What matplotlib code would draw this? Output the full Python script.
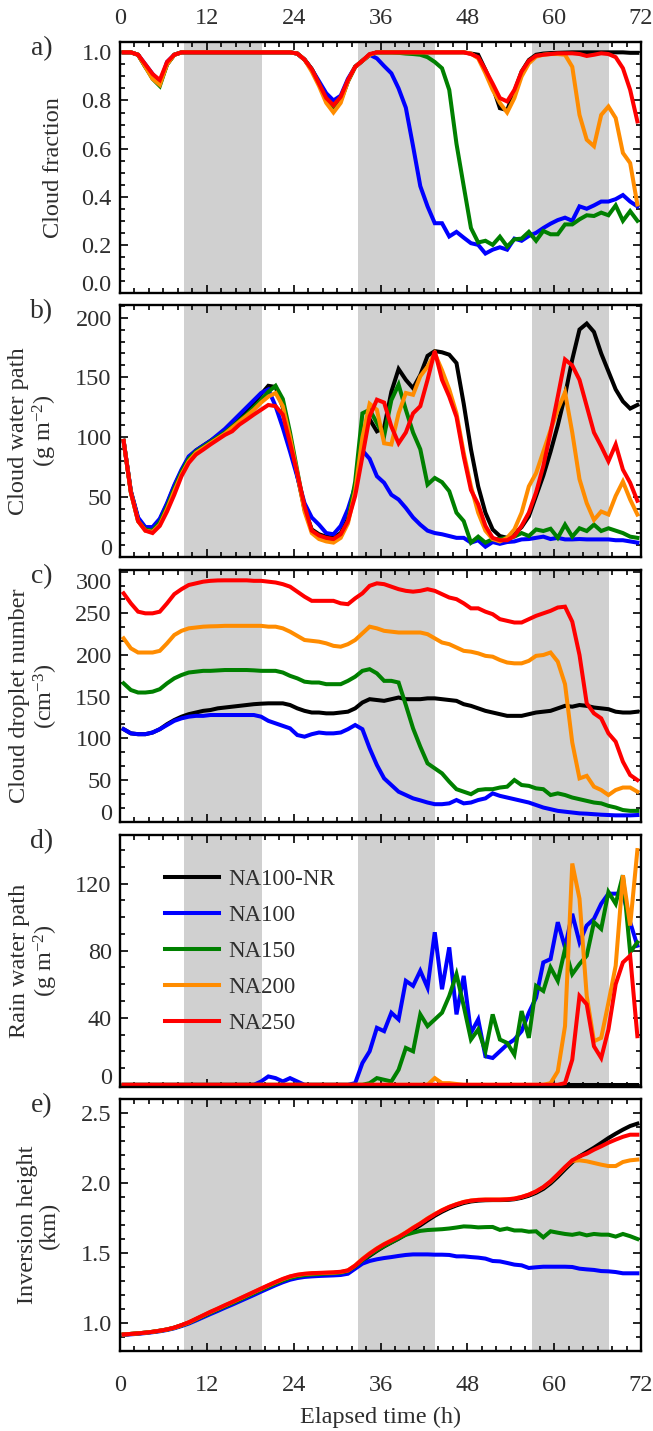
import numpy as np
import matplotlib
matplotlib.use("Agg")
import matplotlib.pyplot as plt
from matplotlib.ticker import MultipleLocator, FormatStrFormatter
from matplotlib.transforms import ScaledTranslation

plt.rcParams['font.family'] = ['Liberation Serif', 'DejaVu Serif']
plt.rcParams['mathtext.fontset'] = 'custom'
plt.rcParams['mathtext.rm'] = 'Liberation Serif'
plt.rcParams['mathtext.it'] = 'Liberation Serif:italic'
plt.rcParams['mathtext.default'] = 'regular'

TEXT = '#2e2e2e'
FS = 17.5

# hourly means, centred on the half hour
hours = np.arange(0.5, 72.0, 1.0)
nights = [(8.9, 19.6), (32.9, 43.6), (56.9, 67.6)]

runs = ['NA100-NR', 'NA100', 'NA150', 'NA200', 'NA250']
colors = ['black', '#0000ff', '#008000', '#ff8c00', '#ff0000']

# ---- a) cloud fraction
cf_nr = [1.0, 1.0, 0.99, 0.94, 0.90, 0.87, 0.95, 0.99, 1.0,
         1.0, 1.0, 1.0, 1.0, 1.0, 1.0, 1.0, 1.0, 1.0, 1.0, 1.0, 1.0, 1.0, 1.0, 1.0,
         0.995, 0.97, 0.93, 0.87, 0.81, 0.78, 0.80, 0.88, 0.94, 0.965, 0.99, 1.0,
         1.0, 1.0, 1.0, 1.0, 1.0, 1.0, 1.0, 1.0, 1.0, 1.0, 1.0, 1.0,
         0.995, 0.99, 0.927, 0.858, 0.768, 0.76, 0.837, 0.92, 0.968, 0.99,
         0.995, 0.997, 0.998, 0.999, 1.0, 1.0, 1.0, 1.0, 1.0, 1.0, 1.0, 1.0, 0.998, 0.998]
cf_100 = [1.0, 1.0, 0.99, 0.95, 0.91, 0.87, 0.96, 0.99, 1.0,
          1.0, 1.0, 1.0, 1.0, 1.0, 1.0, 1.0, 1.0, 1.0, 1.0, 1.0, 1.0, 1.0, 1.0, 1.0,
          0.995, 0.97, 0.93, 0.88, 0.83, 0.80, 0.82, 0.89, 0.94, 0.965, 0.99, 0.975,
          0.943, 0.913, 0.85, 0.77, 0.61, 0.444, 0.36, 0.29, 0.29, 0.235, 0.254, 0.23,
          0.207, 0.2, 0.164, 0.18, 0.19, 0.18, 0.226, 0.217, 0.237, 0.25, 0.27, 0.288,
          0.303, 0.313, 0.3, 0.36, 0.35, 0.364, 0.38, 0.38, 0.39, 0.407, 0.38, 0.36]
cf_150 = [1.0, 1.0, 0.99, 0.94, 0.89, 0.86, 0.95, 0.99, 1.0,
          1.0, 1.0, 1.0, 1.0, 1.0, 1.0, 1.0, 1.0, 1.0, 1.0, 1.0, 1.0, 1.0, 1.0, 1.0,
          0.995, 0.97, 0.93, 0.87, 0.80, 0.77, 0.80, 0.88, 0.94, 0.965, 0.99, 1.0,
          1.0, 1.0, 0.998, 0.995, 0.993, 0.99, 0.98, 0.96, 0.934, 0.844, 0.62, 0.444,
          0.27, 0.21, 0.217, 0.2, 0.234, 0.193, 0.223, 0.226, 0.254, 0.217, 0.258, 0.244,
          0.244, 0.285, 0.285, 0.306, 0.323, 0.32, 0.334, 0.323, 0.364, 0.3, 0.34, 0.3]
cf_200 = [1.0, 1.0, 0.99, 0.94, 0.89, 0.865, 0.95, 0.99, 1.0,
          1.0, 1.0, 1.0, 1.0, 1.0, 1.0, 1.0, 1.0, 1.0, 1.0, 1.0, 1.0, 1.0, 1.0, 1.0,
          0.995, 0.97, 0.92, 0.86, 0.79, 0.75, 0.79, 0.88, 0.94, 0.965, 0.99, 1.0,
          1.0, 1.0, 1.0, 1.0, 1.0, 1.0, 1.0, 1.0, 1.0, 1.0, 1.0, 1.0,
          0.995, 0.975, 0.913, 0.844, 0.79, 0.75, 0.81, 0.9, 0.954, 0.982,
          0.99, 0.993, 0.993, 0.99, 0.94, 0.74, 0.637, 0.61, 0.74, 0.775, 0.727, 0.582, 0.54, 0.368]
cf_250 = [1.0, 1.0, 0.99, 0.95, 0.91, 0.885, 0.96, 0.99, 1.0,
          1.0, 1.0, 1.0, 1.0, 1.0, 1.0, 1.0, 1.0, 1.0, 1.0, 1.0, 1.0, 1.0, 1.0, 1.0,
          0.995, 0.97, 0.93, 0.87, 0.81, 0.78, 0.815, 0.885, 0.94, 0.965, 0.993, 1.0,
          1.0, 1.0, 1.0, 1.0, 1.0, 1.0, 1.0, 1.0, 1.0, 1.0, 1.0, 1.0,
          0.993, 0.98, 0.927, 0.87, 0.81, 0.796, 0.844, 0.92, 0.965, 0.986,
          0.99, 0.993, 0.996, 0.996, 0.996, 0.993, 0.985, 0.99, 0.996, 0.993, 0.98, 0.934, 0.844, 0.713]

# ---- b) cloud water path (g m-2)
lwp_nr = [97, 55, 32, 24, 24, 31, 44, 59, 72, 83, 89, 93, 97, 101, 106, 111, 117, 123, 129, 136, 143,
          142, 125, 98, 68, 40, 23, 19, 17, 16, 20, 32, 58, 100, 115,
          105, 108, 138, 157, 148, 141, 152, 168, 172, 171, 169, 162, 128, 90, 59, 37, 23, 17.5,
          16, 19, 25, 34, 51, 68, 88, 110, 135, 165, 190, 195, 188, 170, 155, 140, 130, 124, 127]
lwp_100 = [97, 55, 33, 25, 25, 32, 45, 60, 73, 84, 89, 93, 97, 102, 107, 113, 119, 125, 131, 137, 140,
           126, 108, 88, 67, 45, 33, 27, 20, 19, 26, 40, 59, 89, 82, 67.5,
           62, 52, 48, 41, 33, 27, 22, 20, 19, 17.5, 16, 16, 12, 14, 8.6, 12.5, 11, 12.5, 13, 14.7,
           15, 16, 17, 15, 16, 14.7, 14.7, 15, 14.7, 14.7, 14.7, 14.7, 14, 14, 13, 12]
lwp_150 = [97, 54, 30, 23, 22, 29, 42, 57, 71, 82, 88, 92, 96, 100, 104, 109, 114, 119, 125, 131, 138,
           143, 132, 104, 72, 40, 22, 17, 15, 14, 17, 30, 63, 120, 123, 112,
           101, 131, 144, 123, 104, 90, 60.5, 66, 62.5, 55, 37, 30, 12, 17, 12, 15, 15, 16, 17, 20,
           17.5, 23, 21.7, 23.6, 16, 27, 17, 24, 21.7, 27, 21.7, 24, 22, 20, 17, 16]
lwp_200 = [97, 54, 30, 22, 21, 27, 40, 55, 69, 80, 87, 91, 95, 99, 103, 108, 113, 118, 123, 129, 134,
           137, 126, 100, 70, 38, 20, 15, 13, 12, 16, 28, 55, 100, 128, 123,
           95, 94, 120, 137, 135.5, 151, 159, 170, 156, 140, 120, 87, 59, 37, 22, 15, 13, 16, 23, 37,
           59, 70, 88, 106, 123, 137.5, 104, 65, 45, 31, 38, 35.5, 51, 63, 48, 35.5]
lwp_250 = [97, 54, 30, 22, 20, 26, 38, 52, 67.5, 78.6, 85.6, 89.7, 94, 98, 102, 105, 110.6, 114.7, 119, 123, 127,
           126, 119, 95, 70, 42.5, 22, 18, 16, 15, 19, 30, 51, 84, 117.5, 131.4,
           129, 109, 95, 104, 120, 126, 148, 172, 148, 134, 117, 84, 56, 44, 26, 16, 14, 14, 17.5, 26,
           37, 54, 76, 104, 134, 165, 160, 148, 126, 104, 92.5, 80, 94, 73, 62, 47]

# ---- c) cloud droplet number (cm-3)
nd_nr = [111, 106, 105, 105, 107, 111, 117, 122, 126, 129, 131, 133, 134, 136, 137, 138, 139, 140, 141, 141.6,
         142, 142, 142, 140, 136, 133, 131, 131, 130, 130, 131, 132,
         136, 143, 147, 146, 145, 147, 149, 147, 147, 147, 148, 148, 147, 146, 145, 141, 139, 136, 133, 131,
         129, 127, 127, 127, 129, 131, 132, 133, 136, 139, 138, 140, 139, 137, 136, 135, 132, 131, 131, 132]
nd_100 = [111, 106, 105, 105, 107, 111, 116, 121, 124, 126, 127, 127, 128, 128, 128, 128, 128, 128, 128, 126,
          121, 118, 115, 112, 104, 102, 105, 107, 106, 106, 107, 111,
          116, 111, 88, 68, 52, 44, 36, 32, 28, 25.6, 23, 21, 21, 22, 26, 22, 23, 26, 28, 34,
          31, 29, 27, 25, 23, 20, 17, 15, 13, 12, 11, 10, 9.6, 9, 8.4, 8, 7.6, 7.6, 7.6, 8]
nd_150 = [166, 158, 155, 155, 156, 159, 166, 172, 176, 179, 180, 181, 181, 181.5, 182, 182, 182, 182, 181.6, 181,
          181, 181, 179, 175, 172, 168, 167, 167, 165, 165, 165, 169,
          174, 181, 183, 178, 169, 169, 167, 140, 112, 90, 70, 64, 58, 48, 39, 36, 33, 38, 39, 39,
          41, 42, 50, 44, 43, 40, 39, 32, 34, 32, 29, 27, 25, 23, 22, 19, 17, 14, 13, 13]
nd_200 = [220, 208, 203, 203, 203, 205, 214, 224, 229, 232, 233, 234, 234.4, 234.6, 235, 235, 235, 235, 235, 235,
          234, 234, 232, 228, 223, 218, 217, 216, 214, 211, 210, 213,
          218, 226, 234, 232, 229, 228, 227, 227, 227, 227, 225, 220, 215, 213, 209, 205, 204, 202, 199, 198,
          194, 191, 190, 190, 193, 199, 200, 203, 192, 165, 95, 52, 55, 42, 38, 32, 38, 41, 41, 36]
nd_250 = [274, 262, 252, 250, 250, 252, 262, 273, 279, 284, 286, 288, 289, 289.5, 289.6, 289.6, 289.6, 289.6, 289, 289,
          288, 287, 285, 282, 276, 270, 265, 265, 265, 265, 262, 261,
          268, 274, 283, 286, 285, 282, 279, 277, 276, 277, 279, 277, 273, 269, 267, 262, 256, 256, 252, 249,
          243, 241, 239, 239, 243, 247, 250, 253, 257, 258, 240, 200, 142, 130, 124, 106, 96, 72, 56, 50]

# ---- d) rain water path (g m-2)
rwp_nr = [0, 0, 0, 0, 0, 0, 0, 0, 0, 0, 0, 0, 0, 0, 0, 0, 0, 0, 0, 0, 0, 0, 0, 0,
          0, 0, 0, 0, 0, 0, 0, 0, 0, 0, 0, 0, 0, 0, 0, 0, 0, 0, 0, 0, 0, 0, 0, 0,
          0, 0, 0, 0, 0, 0, 0, 0, 0, 0, 0, 0, 0, 0, 0, 0, 0, 0, 0, 0, 0, 0, 0, 0]
rwp_100 = [0, 0, 0, 0, 0, 0, 0, 0, 0, 0, 0, 0, 0, 0, 0, 0, 0, 0, 0,
           2, 5, 4, 2, 4, 2, 0, 0, 0, 0, 0, 0, 0,
           1, 13, 20, 34, 32, 43, 39, 62, 59, 68, 58, 91, 57, 82, 42, 65, 31, 39, 17, 16,
           20, 24, 27, 32, 43, 52, 73, 75, 97, 82, 102, 85, 95, 99, 108, 114, 114, 114, 97, 83]
rwp_150 = [0, 0, 0, 0, 0, 0, 0, 0, 0, 0, 0, 0, 0, 0, 0, 0, 0, 0, 0, 0, 0, 0, 0, 0,
           0, 0, 0, 0, 0, 0, 0, 0, 0, 0,
           1, 4, 3, 2, 9, 22, 20, 42, 35, 39, 43, 53, 66, 47, 27, 33, 20, 42, 27, 25,
           18, 44, 28, 59, 56, 70, 62, 81, 66, 72, 77, 97, 93, 115, 108, 125, 79, 85]
rwp_200 = [0, 0, 0, 0, 0, 0, 0, 0, 0, 0, 0, 0, 0, 0, 0, 0, 0, 0, 0, 0, 0, 0, 0, 0,
           0, 0, 0, 0, 0, 0, 0, 0, 0, 0, 0, 0, 0, 0, 0, 0, 0, 0, 0,
           4, 1, 1, 0.5, 0, 0, 0, 0, 0, 0, 0, 0, 0, 0, 0, 0, 1,
           8, 35, 132, 111, 53, 26, 28, 49, 71, 125, 95, 140]
rwp_250 = [0, 0, 0, 0, 0, 0, 0, 0, 0, 0, 0, 0, 0, 0, 0, 0, 0, 0, 0, 0, 0, 0, 0, 0,
           0, 0, 0, 0, 0, 0, 0, 0, 0, 0, 0, 0, 0, 0, 0, 0, 0, 0, 0, 0, 0, 0, 0, 0,
           0, 0, 0, 0, 0, 0, 0, 0, 0, 0, 0, 0, 0,
           1, 15, 53, 48, 23, 16, 33, 60, 73, 77, 29]

# ---- e) inversion height (km)
zi_nr = [0.918, 0.922, 0.926, 0.931, 0.937, 0.945, 0.954, 0.967, 0.984, 1.003, 1.027, 1.051, 1.075, 1.098,
         1.121, 1.144, 1.168, 1.191, 1.215, 1.239, 1.262, 1.285, 1.306, 1.324, 1.336, 1.344, 1.348, 1.351,
         1.354, 1.357, 1.361,
         1.371, 1.402, 1.443, 1.48, 1.515, 1.547, 1.575, 1.602, 1.633, 1.666, 1.698, 1.733, 1.766, 1.795,
         1.82, 1.84, 1.857, 1.868, 1.874, 1.877, 1.878, 1.878, 1.879, 1.884, 1.894, 1.909, 1.93, 1.958,
         1.997, 2.045, 2.098, 2.148, 2.19, 2.221, 2.252, 2.286, 2.321, 2.352, 2.381, 2.407, 2.424]
zi_100 = [0.915, 0.919, 0.923, 0.928, 0.934, 0.941, 0.95, 0.962, 0.978, 0.996, 1.018, 1.041, 1.064, 1.086,
          1.109, 1.131, 1.154, 1.177, 1.2, 1.224, 1.247, 1.27, 1.291, 1.309, 1.321, 1.329, 1.333, 1.336,
          1.338, 1.34, 1.343,
          1.352, 1.388, 1.424, 1.443, 1.455, 1.464, 1.471, 1.479, 1.486, 1.49, 1.49, 1.49, 1.488, 1.488,
          1.486, 1.476, 1.476, 1.471, 1.467, 1.46, 1.443, 1.44, 1.429, 1.417, 1.412, 1.393, 1.398, 1.402,
          1.402, 1.402, 1.402, 1.4, 1.388, 1.383, 1.379, 1.371, 1.369, 1.364, 1.355, 1.355, 1.355]
zi_150 = [0.918, 0.922, 0.926, 0.931, 0.937, 0.944, 0.953, 0.965, 0.982, 1.001, 1.025, 1.049, 1.073, 1.096,
          1.119, 1.142, 1.165, 1.189, 1.213, 1.237, 1.26, 1.283, 1.304, 1.322, 1.334, 1.342, 1.347, 1.35,
          1.353, 1.356, 1.36,
          1.372, 1.405, 1.448, 1.487, 1.52, 1.55, 1.577, 1.605,
          1.63, 1.645, 1.658, 1.664, 1.667, 1.67, 1.675, 1.682, 1.69, 1.688, 1.683, 1.685, 1.686, 1.665,
          1.675, 1.661, 1.661, 1.652, 1.655, 1.612, 1.655, 1.645, 1.636, 1.63, 1.64, 1.626, 1.636, 1.631,
          1.631, 1.617, 1.636, 1.62, 1.6]
zi_200 = [0.918, 0.922, 0.926, 0.931, 0.937, 0.945, 0.954, 0.966, 0.984, 1.004, 1.029, 1.054, 1.079, 1.102,
          1.126, 1.149, 1.173, 1.197, 1.221, 1.245, 1.268, 1.291, 1.313, 1.331, 1.343, 1.35, 1.354, 1.356,
          1.358, 1.36, 1.364,
          1.376, 1.412, 1.458, 1.498, 1.533, 1.564, 1.59, 1.616, 1.647, 1.681, 1.712, 1.747, 1.778, 1.806,
          1.83, 1.849, 1.865, 1.875, 1.88, 1.882, 1.882, 1.882, 1.884, 1.889, 1.901, 1.917, 1.94, 1.97,
          2.01, 2.06, 2.112, 2.158,
          2.162, 2.155, 2.143, 2.131, 2.121, 2.121, 2.15, 2.162, 2.167]
zi_250 = [0.918, 0.922, 0.926, 0.931, 0.937, 0.945, 0.954, 0.967, 0.985, 1.005, 1.03, 1.055, 1.08, 1.103,
          1.127, 1.15, 1.174, 1.198, 1.222, 1.246, 1.27, 1.293, 1.315, 1.333, 1.345, 1.352, 1.356, 1.358,
          1.36, 1.362, 1.366,
          1.376, 1.41, 1.455, 1.495, 1.531, 1.562, 1.588, 1.614, 1.645, 1.679, 1.71, 1.745, 1.776, 1.805,
          1.829, 1.848, 1.864, 1.874, 1.879, 1.881, 1.881, 1.881, 1.883, 1.888, 1.9, 1.917, 1.94, 1.971,
          2.012, 2.062, 2.114, 2.162, 2.19, 2.21, 2.238, 2.262, 2.288, 2.31, 2.33, 2.345, 2.345]

panels = [
    dict(tag='a)', series=[cf_nr, cf_100, cf_150, cf_200, cf_250], ylabel='Cloud fraction', lx=-0.128,
         ylim=(0.0, 1.043), major=0.2, minor=0.05, fmt='%.1f', nudge_lo=True, nudge_hi=False),
    dict(tag='b)', series=[lwp_nr, lwp_100, lwp_150, lwp_200, lwp_250],
         ylabel='Cloud water path\n(g m$^{-2}$)', lx=-0.166,
         ylim=(0.0, 210.5), major=50, minor=10, fmt='%d', nudge_lo=True, nudge_hi=False),
    dict(tag='c)', series=[nd_nr, nd_100, nd_150, nd_200, nd_250],
         ylabel='Cloud droplet number\n(cm$^{-3}$)', lx=-0.164,
         ylim=(0.0, 302.0), major=50, minor=50 / 3, fmt='%d', nudge_lo=True, nudge_hi=True),
    dict(tag='d)', series=[rwp_nr, rwp_100, rwp_150, rwp_200, rwp_250],
         ylabel='Rain water path\n(g m$^{-2}$)', lx=-0.164,
         ylim=(-1.3, 149.0), major=40, minor=10, fmt='%d', nudge_lo=False, nudge_hi=False),
    dict(tag='e)', series=[zi_nr, zi_100, zi_150, zi_200, zi_250],
         ylabel='Inversion height\n(km)', lx=-0.156,
         ylim=(0.8, 2.6), major=0.5, minor=0.1, fmt='%.1f', nudge_lo=False, nudge_hi=False),
]

W, H = 653, 1431
fig = plt.figure(figsize=(W / 100, H / 100), dpi=100)

# panel edges in pixels from the top of the figure
tops = [42, 305, 570, 835, 1099]
bottoms = [293, 557, 821.7, 1087, 1351]
left_px, right_px = 120, 641

axes = []
for p, top, bot in zip(panels, tops, bottoms):
    ax = fig.add_axes([left_px / W, 1 - bot / H, (right_px - left_px) / W, (bot - top) / H])
    axes.append(ax)

    for t0, t1 in nights:
        ax.axvspan(t0, t1, color='#d0d0d0', lw=0, zorder=0)

    lines = []
    for vals, c in zip(p['series'], colors):
        ln, = ax.plot(hours, vals, color=c, lw=2.9, solid_joinstyle='miter', zorder=2)
        lines.append(ln)

    ax.set_xlim(0, 72)
    ax.set_ylim(*p['ylim'])
    ax.xaxis.set_major_locator(MultipleLocator(12))
    ax.xaxis.set_minor_locator(MultipleLocator(2))
    ax.yaxis.set_major_locator(MultipleLocator(p['major']))
    ax.yaxis.set_minor_locator(MultipleLocator(p['minor']))
    ax.yaxis.set_major_formatter(FormatStrFormatter(p['fmt']))

    for s in ax.spines.values():
        s.set_linewidth(1.7)
    ax.tick_params(which='both', direction='in', top=True, right=True, color='black',
                   labelcolor=TEXT, labelsize=FS, width=1.2)
    ax.tick_params(which='major', length=6)
    ax.tick_params(which='minor', length=3.3)
    ax.tick_params(axis='y', which='major', pad=6)
    ax.tick_params(axis='x', labelbottom=False)

    ax.text(p['lx'], 0.5, p['ylabel'], transform=ax.transAxes, rotation=90, ha='center', va='center',
            multialignment='center', fontsize=FS, color=TEXT, linespacing=1.05)
    ax.text(-0.15, 0.975, p['tag'], transform=ax.transAxes, ha='center', va='center',
            fontsize=20, color=TEXT)

    # keep the end labels inside the frame
    locs = ax.yaxis.get_majorticklocs()
    ticks = ax.yaxis.get_major_ticks(len(locs))
    lo, hi = p['ylim']
    for loc, tick in zip(locs, ticks):
        shift = 0
        if p['nudge_lo'] and abs(loc - lo) < 1e-6:
            shift = 7
        if p['nudge_hi'] and abs(loc - 300) < 1e-6:
            shift = -7
        if p['tag'] == 'd)' and abs(loc) < 1e-6:
            shift = 6
        if shift:
            lab = tick.label1
            lab.set_transform(lab.get_transform() + ScaledTranslation(0, shift / 72, fig.dpi_scale_trans))

    if p['tag'] == 'd)':
        ax.legend(lines, runs, loc='upper left', bbox_to_anchor=(0.087, 0.866), frameon=False,
                  fontsize=16.5, handlelength=2.35, handletextpad=0.4, labelspacing=0.66,
                  borderpad=0, borderaxespad=0, labelcolor=TEXT)

# time labels on top of the first panel and below the last one
axes[0].tick_params(axis='x', labeltop=True, pad=9)
axes[-1].tick_params(axis='x', labelbottom=True, pad=17)
axes[-1].set_xlabel('Elapsed time (h)', fontsize=FS, color=TEXT, labelpad=8)

fig.savefig('out.png', dpi=100)
